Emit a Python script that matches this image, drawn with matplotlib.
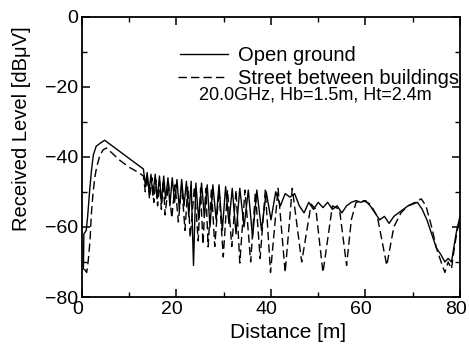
import matplotlib
matplotlib.use("Agg")
import matplotlib.pyplot as plt
import matplotlib.transforms as mtransforms
from matplotlib.ticker import MultipleLocator

plt.rcParams.update({
    "font.family": ["Liberation Sans", "DejaVu Sans"],
    "font.size": 14,
    "axes.linewidth": 1.3,
    "xtick.direction": "in",
    "ytick.direction": "in",
    "xtick.top": True,
    "ytick.right": True,
    "xtick.major.size": 6,
    "ytick.major.size": 6,
    "xtick.minor.size": 3.5,
    "ytick.minor.size": 3.5,
    "xtick.major.width": 1.1,
    "ytick.major.width": 1.1,
    "xtick.minor.width": 1.0,
    "ytick.minor.width": 1.0,
})

# Open ground (solid line)
open_x = [0.3, 0.4, 0.9, 1.2, 1.6, 2.0, 2.4, 3.0, 4.0, 4.8, 5.5, 7.0, 9.0, 11.0,
          13.0, 13.4, 13.8, 14.2, 14.6, 15.0, 15.5, 15.9, 16.4, 16.8, 17.3, 17.7,
          18.2, 18.6, 19.1, 19.6, 20.1, 20.6, 21.1, 21.6, 22.1, 22.6, 23.1, 23.6,
          24.1, 24.7, 25.3, 25.9, 26.5, 27.1, 27.7, 28.4, 29.0, 29.7, 30.4, 31.1,
          31.8, 32.6, 33.4, 34.3, 35.2, 36.1, 37.0, 38.0, 39.0, 40.0, 41.0, 42.0,
          43.0, 44.0, 45.0, 46.0, 47.0, 48.0, 49.0, 50.0, 51.0, 52.0, 53.0, 54.0,
          55.0, 56.0, 57.0, 58.0, 59.0, 60.0, 61.0, 62.0, 63.0, 64.0, 65.0, 66.0,
          67.0, 68.0, 69.0, 70.0, 71.0, 72.0, 73.0, 74.0, 75.0, 76.0, 76.8, 77.5,
          78.2, 78.8, 79.3, 80.0]
open_y = [-72, -62, -61, -57, -50, -44, -39.5, -37, -36, -35.3, -36, -37.5, -39.5, -41.5,
          -43.5, -48, -44.5, -50, -45, -51, -45, -52, -45.5, -53, -45.5, -52,
          -46, -54, -46, -53, -46.5, -55, -46.5, -54, -47, -57, -47, -71,
          -47.5, -58, -47.5, -57, -48, -60, -48, -58, -48, -61, -48.5, -59,
          -49, -62, -49, -60, -49.5, -63, -49.5, -61, -50, -58, -50, -54,
          -50.5, -51.5, -50.5, -54, -56, -53, -55, -53, -54.5, -53, -55, -54,
          -56, -54, -53, -52.5, -53, -52.5, -54, -56, -58, -57, -59, -57,
          -56, -55, -54, -53.5, -53, -55, -58, -62, -66, -68, -70, -69,
          -70, -65, -61, -57]

# Street between buildings (dashed line)
street_x = [0.5, 1.0, 1.3, 1.7, 2.0, 2.3, 2.7, 3.1, 3.8, 4.5, 5.2, 6.0, 8.0, 10.0, 12.0,
            13.0, 13.4, 13.8, 14.3, 14.8, 15.2, 15.6, 16.0, 16.4, 16.8, 17.2, 17.6,
            18.3, 19.0, 19.7, 20.4, 21.1, 21.8, 22.4, 22.9, 23.8, 24.6, 25.1, 25.6,
            26.2, 26.7, 27.4, 28.1, 29.0, 29.9, 30.8, 31.7, 32.6, 33.4, 34.5, 35.7,
            36.7, 37.7, 38.8, 39.9, 41.5, 43.0, 44.5, 46.5, 48.5, 49.5, 51.0, 53.0,
            54.5, 56.0, 57.0, 58.0, 59.5, 61.0, 62.5, 64.5, 66.0, 67.5, 69.0, 70.5,
            71.8, 72.8, 74.0, 75.0, 76.0, 76.8, 77.5, 78.2, 78.8, 79.4, 80.0]
street_y = [-72, -73, -70, -64, -56, -51, -46, -43, -39.5, -38, -37.5, -38.5, -41, -43, -44.5,
            -45.5, -50, -45.5, -52, -46, -53, -46.5, -54, -47, -55, -47, -56.6,
            -47.5, -57.5, -48, -58.6, -48, -61, -48.5, -63, -48.5, -64, -49, -65,
            -49, -65.7, -49, -65.6, -49.5, -68.6, -49.5, -65.6, -49.5, -70.3, -49.5, -70,
            -50, -69, -49.5, -73, -49, -73, -49, -70, -53.5, -55, -73, -54,
            -55, -71, -58, -53, -52.5, -53.5, -57, -71, -60, -56, -54, -53,
            -52, -54, -60, -66, -70, -73, -70, -72, -66, -61, -58]

fig = plt.figure(figsize=(4.69, 3.45), dpi=100)
ax = fig.add_axes([0.1748, 0.1391, 0.806, 0.813])

ax.plot(open_x, open_y, color="black", lw=1.0, ls="-")
ax.plot(street_x, street_y, color="black", lw=1.0, ls=(0, (6, 3)))

ax.set_xlim(0, 80)
ax.set_ylim(-80, 0)
ax.xaxis.set_major_locator(MultipleLocator(20))
ax.xaxis.set_minor_locator(MultipleLocator(10))
ax.yaxis.set_major_locator(MultipleLocator(20))
ax.yaxis.set_minor_locator(MultipleLocator(10))
ax.tick_params(axis="both", which="major", labelsize=14, pad=3)

# x tick labels sit a little left of their ticks in the original
shift = mtransforms.ScaledTranslation(-3 / 72, 0, fig.dpi_scale_trans)
for lab in ax.get_xticklabels():
    lab.set_transform(lab.get_transform() + shift)

ax.set_xlabel("Distance [m]", fontsize=15)
ax.xaxis.set_label_coords(0.545, -0.093)
ax.set_ylabel("Received Level [dBμV]", fontsize=14.5)
ax.yaxis.set_label_coords(-0.135, 0.6)

# legend drawn by hand
ax.plot([0.26, 0.385], [0.868, 0.868], transform=ax.transAxes, color="black", lw=1.0,
        clip_on=False)
ax.plot([0.255, 0.38], [0.785, 0.785], transform=ax.transAxes, color="black", lw=1.0,
        ls=(0, (6, 3)), clip_on=False)
ax.text(0.412, 0.862, "Open ground", transform=ax.transAxes, fontsize=14.5,
        va="center", ha="left")
ax.text(0.412, 0.78, "Street between buildings", transform=ax.transAxes, fontsize=14.5,
        va="center", ha="left")
ax.text(0.31, 0.72, "20.0GHz, Hb=1.5m, Ht=2.4m", transform=ax.transAxes, fontsize=13,
        va="center", ha="left")

fig.savefig("out.png", dpi=100, facecolor="white")
